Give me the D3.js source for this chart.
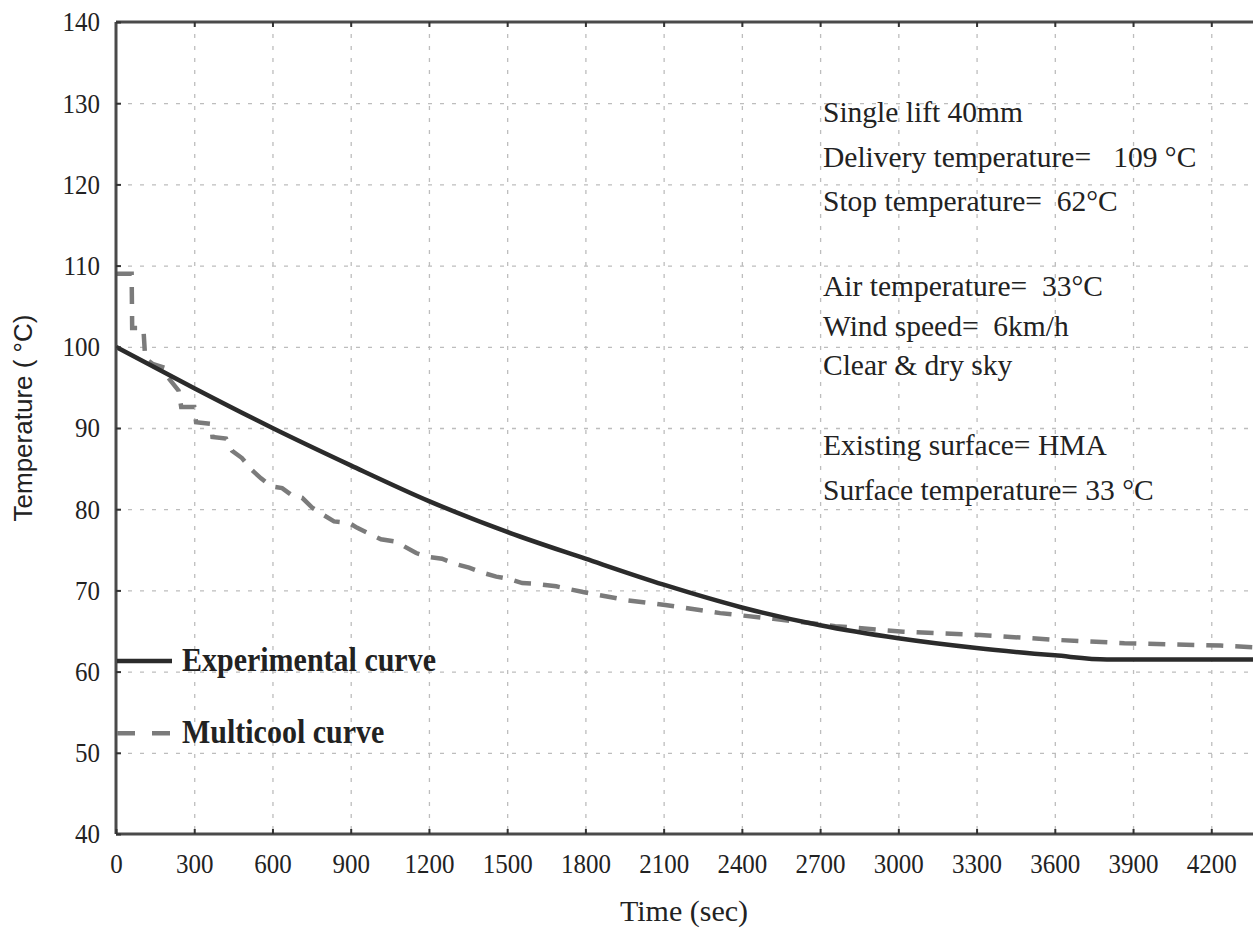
<!DOCTYPE html>
<html>
<head>
<meta charset="utf-8">
<script src="https://cdn.jsdelivr.net/npm/d3@7"></script>
<style>
  body { margin: 0; background: #fff; }
  svg { display: block; }
  text { fill: #222; }
</style>
</head>
<body>
<div id="chart"></div>
<script>
'use strict';

// values
const timeTicks = [0, 300, 600, 900, 1200, 1500, 1800, 2100, 2400, 2700, 3000, 3300, 3600, 3900, 4200];
const tempTicks = [40, 50, 60, 70, 80, 90, 100, 110, 120, 130, 140];

// [time (sec), temperature (°C)]
const experimentalCurve = [
  [0, 100], [300, 94.9], [600, 90.0], [900, 85.4], [1200, 81.0], [1500, 77.2],
  [1800, 73.9], [2100, 70.7], [2400, 67.9], [2700, 65.7], [3000, 64.1],
  [3300, 62.9], [3600, 62.0], [3800, 61.5], [4360, 61.5]
];

const multicoolCurve = [
  [0, 109], [60, 109], [62, 102.3], [105, 102.3], [112, 98.6], [140, 97.9],
  [190, 97.4], [200, 96.2], [240, 94.6], [250, 92.6], [300, 92.6], [307, 90.7],
  [365, 90.5], [370, 88.9], [422, 88.7], [445, 87.2], [483, 86.3], [522, 84.8],
  [556, 83.8], [595, 82.8], [637, 82.6], [671, 81.8], [714, 81.4], [752, 80.2],
  [790, 79.4], [836, 78.5], [894, 78.3], [925, 77.7], [970, 77.0], [1016, 76.3],
  [1074, 76.0], [1112, 75.3], [1151, 74.6], [1200, 74.1], [1250, 73.9],
  [1308, 73.2], [1354, 72.8], [1404, 72.2], [1458, 71.7], [1508, 71.4],
  [1558, 70.9], [1611, 70.8], [1688, 70.5], [1791, 69.8], [1957, 68.8],
  [2106, 68.2], [2317, 67.2], [2521, 66.5], [2758, 65.6], [3019, 64.9],
  [3315, 64.5], [3610, 63.9], [3867, 63.5], [4236, 63.2], [4360, 63.0]
];

const legendLabels = ['Experimental curve', 'Multicool curve'];

const noteLines = [
  'Single lift 40mm',
  'Delivery temperature=   109 \u00b0C',
  'Stop temperature=  62\u00b0C',
  'Air temperature=  33\u00b0C',
  'Wind speed=  6km/h',
  'Clear & dry sky',
  'Existing surface= HMA',
  'Surface temperature= 33 \u00b0C'
];

const SERIF = '"Liberation Serif", "Times New Roman", serif';
const STRETCH = 1.12;  // the figure's lettering is a little taller than wide


class Chart {
  constructor(options) {
    this.container = options.container;
    this.width = options.width;
    this.height = options.height;
    this.margin = options.margin;
    this.xMax = options.xMax;
  }

  draw() {
    this.svg = d3.select(this.container).append('svg')
      .attr('width', this.width)
      .attr('height', this.height);
    this.plot = this.svg.append('g')
      .attr('transform', `translate(${this.margin.left}, ${this.margin.top})`);
    this.createXScale();
    this.createYScale();
    this.drawGrid();
    this.drawCurves();
    this.drawFrame();
    this.drawXAxis();
    this.drawYAxis();
    this.drawLegend();
    this.drawNotes();
    this.drawTitles();
  }

  createXScale() {
    this.xScale = d3.scaleLinear()
      .domain([0, this.xMax])
      .range([0, this.plotWidth]);
  }

  createYScale() {
    this.yScale = d3.scaleLinear()
      .domain([40, 140])
      .range([this.plotHeight, 0]);
  }

  drawGrid() {
    let grid = this.plot.append('g').attr('class', 'grid');

    grid.append('g')
      .call(d3.axisBottom(this.xScale)
        .tickValues(timeTicks.slice(1))
        .tickSize(this.plotHeight)
        .tickFormat(''));

    grid.append('g')
      .call(d3.axisLeft(this.yScale)
        .tickValues(tempTicks.slice(1, -1))
        .tickSize(-this.plotWidth)
        .tickFormat(''));

    grid.selectAll('.domain').remove();
    grid.selectAll('line')
      .attr('stroke', '#bdbdbd')
      .attr('stroke-width', 1.3)
      .attr('stroke-dasharray', '4,8');
  }

  drawCurves() {
    let line = d3.line()
      .x((d) => this.xScale(d[0]))
      .y((d) => this.yScale(d[1]));

    this.plot.append('path')
      .datum(multicoolCurve)
      .attr('fill', 'none')
      .attr('stroke', '#7b7b7b')
      .attr('stroke-width', 4.5)
      .attr('stroke-dasharray', '17,12')
      .attr('d', line);

    this.plot.append('path')
      .datum(experimentalCurve)
      .attr('fill', 'none')
      .attr('stroke', '#2b2b2b')
      .attr('stroke-width', 4.5)
      .attr('d', line.curve(d3.curveMonotoneX));
  }

  drawFrame() {
    let frame = this.plot.append('g')
      .attr('stroke', '#4a4a4a')
      .attr('stroke-width', 3);
    frame.append('line')
      .attr('x1', 0).attr('x2', 0)
      .attr('y1', 0).attr('y2', this.plotHeight);
    frame.append('line')
      .attr('x1', 0).attr('x2', this.plotWidth)
      .attr('y1', 0).attr('y2', 0);
    frame.append('line')
      .attr('x1', 0).attr('x2', this.plotWidth)
      .attr('y1', this.plotHeight).attr('y2', this.plotHeight);
  }

  drawXAxis() {
    let axis = this.plot.append('g')
      .attr('transform', `translate(0, ${this.plotHeight})`)
      .call(d3.axisBottom(this.xScale)
        .tickValues(timeTicks)
        .tickFormat(d3.format('d'))
        .tickSize(-5));
    axis.select('.domain').remove();
    axis.selectAll('line').attr('stroke', '#333').attr('stroke-width', 2);
    axis.selectAll('text')
      .attr('y', 39 / STRETCH)
      .attr('dy', 0)
      .attr('transform', `scale(1, ${STRETCH})`)
      .style('font-family', SERIF)
      .style('font-size', '25px');

    // small ticks hanging from the top edge
    let top = this.plot.append('g')
      .call(d3.axisTop(this.xScale)
        .tickValues(timeTicks.slice(1))
        .tickSize(-5)
        .tickFormat(''));
    top.select('.domain').remove();
    top.selectAll('line').attr('stroke', '#333').attr('stroke-width', 2);
  }

  drawYAxis() {
    let axis = this.plot.append('g')
      .call(d3.axisLeft(this.yScale)
        .tickValues(tempTicks)
        .tickSize(-5)
        .tickPadding(16));
    axis.select('.domain').remove();
    axis.selectAll('line').attr('stroke', '#333').attr('stroke-width', 2);
    axis.selectAll('text')
      .attr('x', -16)
      .attr('transform', `scale(1, ${STRETCH})`)
      .style('font-family', SERIF)
      .style('font-size', '25px');
  }

  drawLegend() {
    let legend = this.plot.append('g');
    let rows = [
      { label: legendLabels[0], y: this.yScale(61.3), dash: null, color: '#2b2b2b' },
      { label: legendLabels[1], y: this.yScale(52.4), dash: '18,17', color: '#7b7b7b' }
    ];

    rows.forEach((r) => {
      legend.append('line')
        .attr('x1', 1).attr('x2', 56)
        .attr('y1', r.y).attr('y2', r.y)
        .attr('stroke', r.color)
        .attr('stroke-width', 4.5)
        .attr('stroke-dasharray', r.dash);
      legend.append('text')
        .attr('transform', `translate(66, ${r.y + 10}) scale(1, 1.15)`)
        .style('font-family', SERIF)
        .style('font-weight', 'bold')
        .style('font-size', '30px')
        .text(r.label);
    });
  }

  drawNotes() {
    // baselines of the note lines, blank rows between the three groups
    let baselines = [122, 167, 211, 296, 336, 375, 455, 500];
    this.svg.append('g').selectAll('text')
      .data(noteLines)
      .enter().append('text')
        .attr('x', 823)
        .attr('y', (d, i) => baselines[i])
        .style('font-family', SERIF)
        .style('font-size', '29.5px')
        .style('white-space', 'pre')
        .text((d) => d);
  }

  drawTitles() {
    this.svg.append('text')
      .attr('x', 684)
      .attr('y', 921)
      .attr('text-anchor', 'middle')
      .style('font-family', SERIF)
      .style('font-size', '30px')
      .text('Time (sec)');

    this.svg.append('text')
      .attr('transform', 'translate(32, 418) rotate(-90)')
      .attr('text-anchor', 'middle')
      .style('font-family', '"Liberation Sans", Arial, sans-serif')
      .style('font-size', '26px')
      .text('Temperature ( \u00b0C)');
  }

  get plotWidth() {
    return this.width - this.margin.left - this.margin.right;
  }

  get plotHeight() {
    return this.height - this.margin.top - this.margin.bottom;
  }
}

const chart = new Chart({
  container: '#chart',
  width: 1253,
  height: 932,
  margin: { top: 22, right: 0, bottom: 98, left: 116 },
  xMax: 4360
});
chart.draw();
</script>
</body>
</html>
